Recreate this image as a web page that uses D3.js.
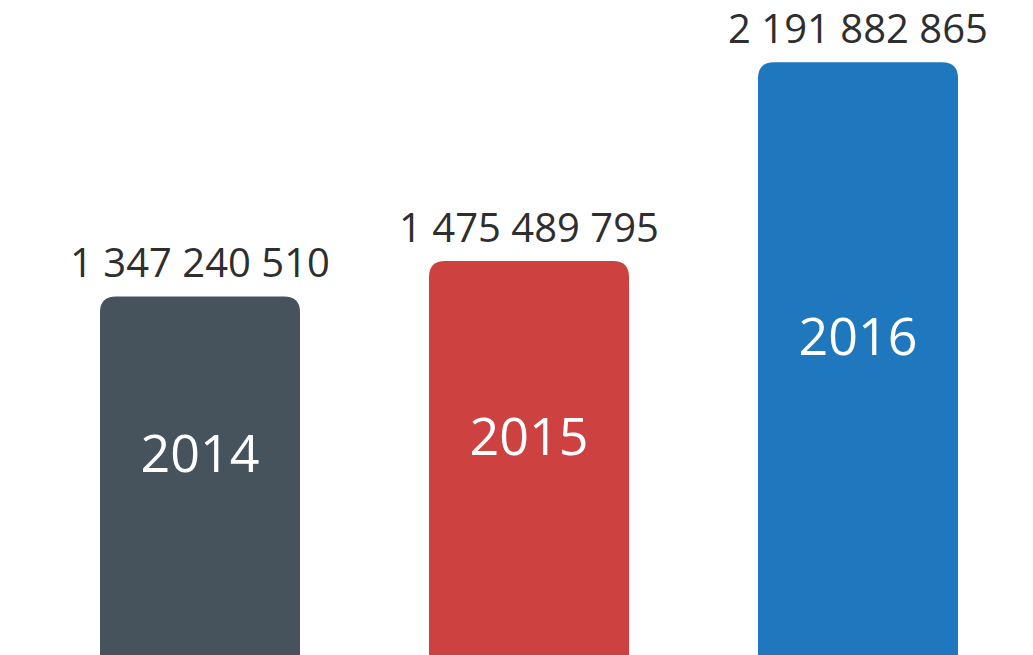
<!DOCTYPE html>
<html><head><meta charset="utf-8">
<script src="https://cdn.jsdelivr.net/npm/d3@7"></script>
<style>
html,body{margin:0;padding:0;background:#fff;overflow:hidden;}
svg{display:block;font-family:"Open Sans",sans-serif;}
</style></head>
<body>
<svg id="chart" width="1033" height="655"></svg>
<script>
const years = ["2014", "2015", "2016"];
const values = [1347240510, 1475489795, 2191882865];
const colors = ["#46535c", "#cd4240", "#1f77bd"];

const svg = d3.select("#chart");

const xs = d3.scalePoint().domain(years).range([100, 758]);
const bw = 200;
const y = d3.scaleLinear().domain([0, 2200000000]).range([670, 60]);
const r = 16;
const fmt = v => d3.format(",")(v).replace(/,/g, " ");

function topRounded(x0, y0, w, h, r) {
  return `M${x0},${y0 + h}V${y0 + r}Q${x0},${y0} ${x0 + r},${y0}H${x0 + w - r}Q${x0 + w},${y0} ${x0 + w},${y0 + r}V${y0 + h}Z`;
}

const data = years.map((yr, i) => ({year: yr, value: values[i], color: colors[i]}));

const g = svg.append("g");
g.selectAll("path.bar").data(data).join("path")
  .attr("class", "bar")
  .attr("fill", d => d.color)
  .attr("d", d => topRounded(xs(d.year), y(d.value), bw, y(0) - y(d.value), r));

g.selectAll("text.val").data(data).join("text")
  .attr("class", "val")
  .attr("x", d => xs(d.year) + bw / 2)
  .attr("y", d => y(d.value) - 19)
  .attr("text-anchor", "middle")
  .attr("font-size", 40)
  .attr("fill", "#2e2e2e")
  .text(d => fmt(d.value));

const labelBase = 612;
g.selectAll("text.yr").data(data).join("text")
  .attr("class", "yr")
  .attr("x", d => xs(d.year) + bw / 2)
  .attr("y", d => (y(d.value) + labelBase) / 2)
  .attr("dy", "0.35em")
  .attr("text-anchor", "middle")
  .attr("font-size", 52)
  .attr("fill", "#ffffff")
  .text(d => d.year);
</script>
</body></html>
